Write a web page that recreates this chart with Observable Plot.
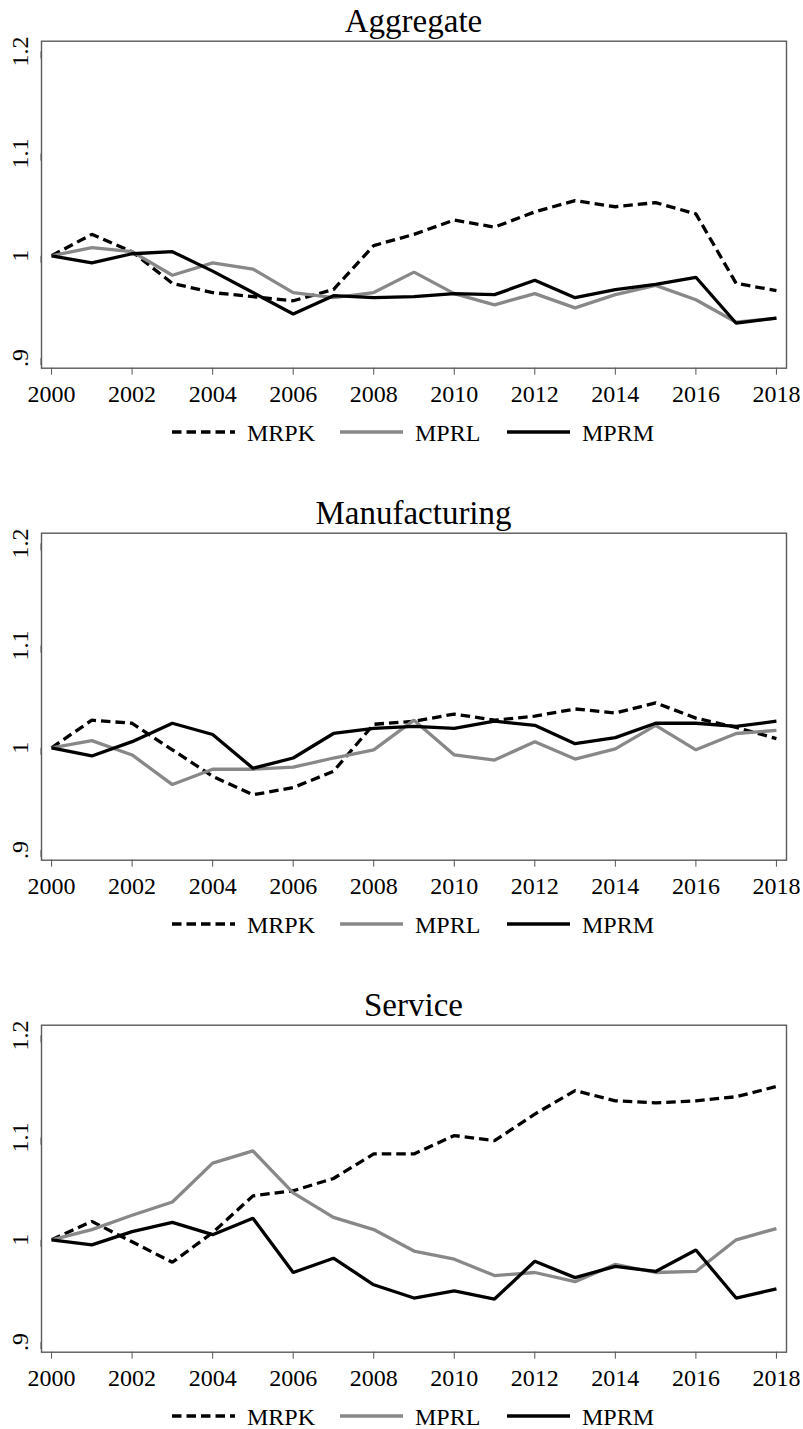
<!DOCTYPE html>
<html>
<head>
<meta charset="utf-8">
<script src="https://cdn.jsdelivr.net/npm/d3@7"></script>
<script src="https://cdn.jsdelivr.net/npm/@observablehq/plot@0.6"></script>
<style>
  html, body { margin: 0; padding: 0; background: #fff; }
  #root { position: relative; width: 803px; height: 1429px; background: #fff; overflow: hidden;
          font-family: "Liberation Serif", "Times New Roman", serif; color: #000; }
  .title { position: absolute; left: 41px; width: 745px; text-align: center;
           font-size: 33px; line-height: 40px; white-space: nowrap; }
  .plot { position: absolute; left: 0; }
  .legend { position: absolute; left: 0; width: 803px; height: 26px; }
</style>
</head>
<body>
<div id="root"></div>
<script>
// ---------- data ----------
const years = [2000,2001,2002,2003,2004,2005,2006,2007,2008,2009,2010,2011,2012,2013,2014,2015,2016,2017,2018];
const xTicks = [2000,2002,2004,2006,2008,2010,2012,2014,2016,2018];
const yTicks = [0.9, 1, 1.1, 1.2];
const yTickLabels = [".9", "1", "1.1", "1.2"];
const seriesNames = ["MRPK", "MPRL", "MPRM"];
const panelTitles = ["Aggregate", "Manufacturing", "Service"];

const aggMRPK = [1.000,1.021,1.004,0.973,0.964,0.960,0.956,0.967,1.010,1.021,1.035,1.028,1.043,1.054,1.048,1.052,1.041,0.973,0.966];
const aggMPRL = [1.000,1.008,1.004,0.981,0.993,0.987,0.964,0.959,0.964,0.984,0.963,0.952,0.963,0.949,0.962,0.971,0.957,0.935,0.939];
const aggMPRM = [1.000,0.993,1.002,1.004,0.985,0.964,0.943,0.961,0.959,0.960,0.963,0.962,0.976,0.959,0.967,0.972,0.979,0.934,0.939];

const manMRPK = [1.000,1.027,1.024,0.998,0.972,0.954,0.961,0.977,1.023,1.026,1.033,1.027,1.031,1.038,1.034,1.044,1.029,1.020,1.009];
const manMPRL = [1.000,1.007,0.993,0.964,0.979,0.979,0.981,0.990,0.998,1.027,0.993,0.988,1.006,0.989,0.999,1.022,0.998,1.014,1.017];
const manMPRM = [1.000,0.992,1.006,1.024,1.013,0.980,0.990,1.014,1.019,1.021,1.019,1.026,1.022,1.004,1.010,1.024,1.024,1.021,1.026];

const serMRPK = [1.000,1.018,0.998,0.978,1.007,1.043,1.048,1.060,1.084,1.084,1.102,1.097,1.123,1.146,1.136,1.134,1.136,1.140,1.150];
const serMPRL = [1.000,1.010,1.024,1.037,1.075,1.087,1.046,1.022,1.010,0.989,0.981,0.965,0.968,0.959,0.976,0.968,0.969,1.000,1.011];
const serMPRM = [1.000,0.995,1.008,1.017,1.005,1.021,0.968,0.982,0.956,0.943,0.950,0.942,0.979,0.963,0.974,0.969,0.990,0.943,0.952];

// ---------- styles ----------
const seriesStyle = {
  MRPK: {stroke: "#000000", dash: "9.5,5"},
  MPRL: {stroke: "#888888", dash: null},
  MPRM: {stroke: "#000000", dash: null}
};
const lineWidth = 3.3;
const panelTops = [0, 492.3, 984.3];
const panels = [
  [aggMRPK, aggMPRL, aggMPRM],
  [manMRPK, manMPRL, manMPRM],
  [serMRPK, serMPRL, serMPRM]
];

const root = document.getElementById("root");

panels.forEach((arrs, p) => {
  const top = panelTops[p];
  const rows = [];
  seriesNames.forEach((name, s) => {
    years.forEach((yr, i) => rows.push({series: name, year: yr, value: arrs[s][i]}));
  });

  // title
  const t = document.createElement("div");
  t.className = "title";
  t.style.top = (top + 1) + "px";
  t.textContent = panelTitles[p];
  root.appendChild(t);

  const lineMarks = seriesNames.map(name => Plot.line(rows.filter(r => r.series === name), {
    x: "year", y: "value",
    stroke: seriesStyle[name].stroke,
    strokeWidth: lineWidth,
    strokeDasharray: seriesStyle[name].dash || undefined,
    strokeLinejoin: "miter",
    strokeLinecap: "butt"
  }));

  const chart = Plot.plot({
    width: 803,
    height: 410,
    marginTop: 40.7,
    marginBottom: 42.3,
    marginLeft: 41,
    marginRight: 17,
    x: {domain: [1999.75, 2018.25], label: null},
    y: {domain: [0.89, 1.21], label: null},
    style: {fontFamily: "'Liberation Serif', 'Times New Roman', serif", fontSize: "24px", background: "transparent", color: "#000", overflow: "visible"},
    marks: [
      Plot.axisX(xTicks, {tickSize: 7, tickPadding: 10, tickFormat: d => String(d), stroke: "#555", fill: "#000", fontSize: 24, label: null}),
      Plot.axisY(yTicks, {tickSize: 7, tickPadding: 14, tickFormat: d => yTickLabels[yTicks.indexOf(d)], rotate: -90, textAnchor: "middle", lineAnchor: "middle", stroke: "#555", fill: "#000", fontSize: 24, label: null}),
      Plot.frame({stroke: "#5a5a5a", strokeWidth: 1.4}),
      ...lineMarks
    ]
  });
  const holder = document.createElement("div");
  holder.className = "plot";
  holder.style.top = top + "px";
  holder.appendChild(chart);
  root.appendChild(holder);

  // legend (line centre at top+431.5, text baseline at top+440.5)
  const svg = d3.create("svg").attr("class", "legend").attr("width", 803).attr("height", 26)
    .style("top", (top + 418.5) + "px")
    .style("font-family", "'Liberation Serif', 'Times New Roman', serif");
  const starts = [172, 340, 507];
  seriesNames.forEach((name, s) => {
    const x0 = starts[s];
    svg.append("line").attr("x1", x0).attr("x2", x0 + 63).attr("y1", 13).attr("y2", 13)
      .attr("stroke", seriesStyle[name].stroke).attr("stroke-width", lineWidth)
      .attr("stroke-dasharray", seriesStyle[name].dash);
    svg.append("text").attr("x", x0 + 75).attr("y", 21.5).attr("font-size", 24).attr("fill", "#000").text(name);
  });
  root.appendChild(svg.node());
});
</script>
</body>
</html>
